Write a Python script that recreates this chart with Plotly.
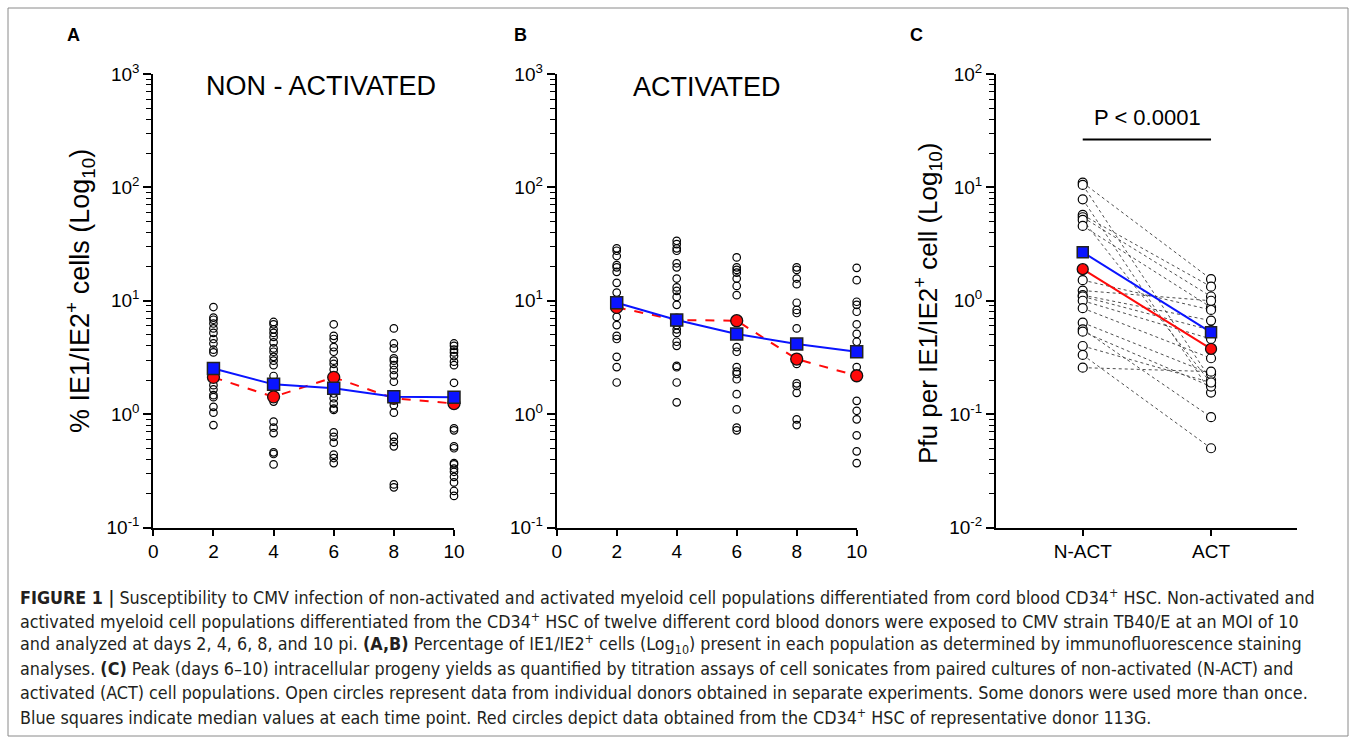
import plotly.graph_objects as go

# ---------------- data ----------------
days = [2, 4, 6, 8, 10]

# Panel A (non-activated) : % IE1/IE2+ cells, individual donors
A_d2 = [8.8, 7.1, 6.8, 6.3, 5.7, 5.2, 4.6, 4.2, 3.7, 3.5, 2.5, 2.1, 1.8, 1.65, 1.47, 1.41, 1.16, 1.03, 0.80]
A_d4 = [6.5, 6.2, 5.6, 5.2, 4.8, 4.3, 3.8, 3.55, 3.2, 2.96, 2.7, 2.17, 1.83, 1.42, 1.29, 0.86, 0.76, 0.68, 0.46, 0.445, 0.36]
A_d6 = [6.2, 4.9, 4.6, 3.9, 3.55, 2.96, 2.77, 2.48, 2.11, 1.69, 1.52, 1.38, 1.24, 1.12, 1.09, 0.69, 0.63, 0.56, 0.44, 0.41, 0.37]
A_d8 = [5.7, 4.2, 3.8, 3.1, 2.96, 2.7, 2.45, 2.2, 1.93, 1.42, 1.38, 1.2, 1.03, 0.63, 0.57, 0.52, 0.24, 0.226]
A_d10 = [4.2, 4.0, 3.7, 3.5, 3.25, 2.9, 2.7, 1.89, 1.41, 1.24, 0.75, 0.72, 0.52, 0.50, 0.37, 0.36, 0.33, 0.31, 0.28, 0.25, 0.21, 0.19]
A_median = [2.53, 1.83, 1.69, 1.42, 1.41]
A_donor113G = [2.11, 1.42, 2.11, 1.38, 1.24]

# Panel B (activated)
B_d2 = [29.0, 27.6, 24.8, 20.6, 19.7, 18.0, 14.4, 11.8, 9.6, 8.7, 7.2, 6.1, 4.9, 4.6, 3.2, 2.6, 1.9]
B_d4 = [33.8, 31.6, 29.0, 27.6, 21.4, 19.7, 15.7, 13.1, 12.2, 10.8, 9.2, 6.8, 6.1, 5.6, 5.2, 4.35, 4.0, 2.66, 2.59, 1.9, 1.27]
B_d6 = [24.1, 19.7, 18.7, 17.7, 15.7, 13.5, 11.2, 6.7, 5.1, 3.9, 3.55, 2.6, 2.37, 2.26, 2.03, 1.5, 1.1, 0.76, 0.72]
B_d8 = [19.7, 18.7, 15.7, 14.0, 9.6, 8.3, 7.8, 5.7, 4.15, 3.06, 2.77, 1.87, 1.77, 1.54, 0.90, 0.80]
B_d10 = [19.5, 15.2, 9.8, 9.2, 8.0, 6.2, 5.1, 4.35, 3.55, 2.6, 2.18, 1.31, 1.07, 0.90, 0.65, 0.47, 0.37]
B_median = [9.6, 6.76, 5.09, 4.15, 3.55]
B_donor113G = [8.74, 6.76, 6.67, 3.06, 2.18]

# Panel C : Pfu per IE1/IE2+ cell, paired N-ACT / ACT
C_categories = ["N-ACT", "ACT"]
C_nact = [11.0, 10.5, 7.85, 5.71, 5.45, 5.16, 4.57, 1.52, 1.23, 1.12, 1.09, 1.00, 0.86, 0.641, 0.560, 0.534, 0.399, 0.333, 0.257]
C_act = [1.55, 0.20, 0.155, 1.33, 1.09, 0.187, 0.875, 0.83, 1.00, 0.668, 0.55, 0.46, 0.311, 0.226, 0.094, 0.175, 0.19, 0.050, 0.237]
C_median = [2.68, 0.527]
C_donor113G = [1.90, 0.376]

y_ticks_AB = [0.1, 1, 10, 100, 1000]
y_ticktext_AB = ["10<sup>-1</sup>", "10<sup>0</sup>", "10<sup>1</sup>", "10<sup>2</sup>", "10<sup>3</sup>"]
y_ticks_C = [0.01, 0.1, 1, 10, 100]
y_ticktext_C = ["10<sup>-2</sup>", "10<sup>-1</sup>", "10<sup>0</sup>", "10<sup>1</sup>", "10<sup>2</sup>"]
x_ticks_AB = [0, 2, 4, 6, 8, 10]

# ---------------- figure ----------------
W, H = 1357, 744
FONT = "Liberation Sans, Arial, Helvetica, sans-serif"
CAP_FONT = "DejaVu Sans Condensed, DejaVu Sans, sans-serif"
BLUE = "#0a14ff"
RED = "#ff0a0a"

fig = go.Figure()


def add_timecourse(cols, med, red, xa, ya):
    for d, vals in zip(days, cols):
        fig.add_trace(go.Scatter(
            x=[d] * len(vals), y=vals, mode="markers", xaxis=xa, yaxis=ya,
            cliponaxis=False, hoverinfo="skip",
            marker=dict(symbol="circle-open", size=7.5, color="black", line=dict(width=1.2))))
    fig.add_trace(go.Scatter(
        x=days, y=red, mode="lines+markers", xaxis=xa, yaxis=ya, cliponaxis=False,
        line=dict(color=RED, width=2, dash="dash"),
        marker=dict(symbol="circle", size=12, color=RED, line=dict(color="#111", width=1.3))))
    fig.add_trace(go.Scatter(
        x=days, y=med, mode="lines+markers", xaxis=xa, yaxis=ya, cliponaxis=False,
        line=dict(color=BLUE, width=2),
        marker=dict(symbol="square", size=12, color=BLUE, line=dict(color="#222", width=1.5))))


add_timecourse([A_d2, A_d4, A_d6, A_d8, A_d10], A_median, A_donor113G, "x", "y")
add_timecourse([B_d2, B_d4, B_d6, B_d8, B_d10], B_median, B_donor113G, "x2", "y2")

# Panel C paired lines
cx, cy = [], []
for n, a in zip(C_nact, C_act):
    cx += [1, 2, None]
    cy += [n, a, None]
fig.add_trace(go.Scatter(x=cx, y=cy, mode="lines", xaxis="x3", yaxis="y3", hoverinfo="skip",
                         line=dict(color="#3a3a3a", width=0.9, dash="dot")))
fig.add_trace(go.Scatter(x=[1] * len(C_nact) + [2] * len(C_act), y=C_nact + C_act, mode="markers",
                         xaxis="x3", yaxis="y3", cliponaxis=False, hoverinfo="skip",
                         marker=dict(symbol="circle", size=9, color="white", line=dict(color="black", width=1.2))))
fig.add_trace(go.Scatter(x=[1, 2], y=C_donor113G, mode="lines+markers", xaxis="x3", yaxis="y3",
                         line=dict(color=RED, width=2),
                         marker=dict(symbol="circle", size=11, color=RED, line=dict(color="#111", width=1.3))))
fig.add_trace(go.Scatter(x=[1, 2], y=C_median, mode="lines+markers", xaxis="x3", yaxis="y3",
                         line=dict(color=BLUE, width=2),
                         marker=dict(symbol="square", size=11, color=BLUE, line=dict(color="#222", width=1.5))))


def px_x(p):
    return p / W


def px_y(p):
    return 1 - p / H


ydom = [px_y(527.5), px_y(74)]
minor_AB = [m * 10 ** e for e in range(-1, 3) for m in range(2, 10)]
minor_C = [m * 10 ** e for e in range(-2, 2) for m in range(2, 10)]

axis_common = dict(showline=True, linecolor="black", linewidth=2, ticks="outside", tickcolor="black",
                   tickwidth=2, showgrid=False, zeroline=False, automargin=False,
                   tickfont=dict(family=FONT, size=19, color="black"))

ylog = lambda tv, tt, rng, minor, anchor: dict(
    axis_common, type="log", range=rng, domain=ydom, anchor=anchor, tickmode="array",
    tickvals=tv, ticktext=tt, ticklen=8,
    minor=dict(tickmode="array", tickvals=minor, ticks="outside", ticklen=5, tickcolor="black", tickwidth=1.2))

fig.update_layout(
    width=W, height=H, margin=dict(l=0, r=0, t=0, b=0, autoexpand=False),
    paper_bgcolor="white", plot_bgcolor="white", showlegend=False,
    xaxis=dict(axis_common, domain=[px_x(153.3), px_x(454)], range=[0, 10], tickmode="array",
               tickvals=x_ticks_AB, ticklen=6, anchor="y"),
    yaxis=ylog(y_ticks_AB, y_ticktext_AB, [-1, 3], minor_AB, "x"),
    xaxis2=dict(axis_common, domain=[px_x(556.7), px_x(856.7)], range=[0, 10], tickmode="array",
                tickvals=x_ticks_AB, ticklen=6, anchor="y2"),
    yaxis2=ylog(y_ticks_AB, y_ticktext_AB, [-1, 3], minor_AB, "x2"),
    xaxis3=dict(axis_common, domain=[px_x(996), px_x(1297)], range=[0.324, 2.670], tickmode="array",
                tickvals=[1, 2], ticktext=C_categories, ticklen=6, anchor="y3"),
    yaxis3=ylog(y_ticks_C, y_ticktext_C, [-2, 2], minor_C, "x3"),
)

ann = []


def text(x, y, s, size, bold=False, angle=0, family=FONT, color="black", xanchor="center"):
    ann.append(dict(x=px_x(x), y=px_y(y), xref="paper", yref="paper", text=("<b>%s</b>" % s) if bold else s,
                    showarrow=False, textangle=angle, xanchor=xanchor, yanchor="middle",
                    font=dict(family=family, size=size, color=color)))


text(73, 35, "A", 18, bold=True)
text(520, 35, "B", 18, bold=True)
text(916, 35, "C", 18, bold=True)
text(320.5, 86, "NON - ACTIVATED", 27)
text(707, 87, "ACTIVATED", 27)
text(80, 291, "% IE1/IE2<sup>+</sup> cells (Log<sub>10</sub>)", 27, angle=-90)
text(928, 304, "Pfu per IE1/IE2<sup>+</sup> cell (Log<sub>10</sub>)", 26, angle=-90)
text(1147, 118, "P &lt; 0.0001", 22)

caption = [
    "<b>FIGURE 1 |</b> Susceptibility to CMV infection of non-activated and activated myeloid cell populations differentiated from cord blood CD34<sup>+</sup> HSC. Non-activated and",
    "activated myeloid cell populations differentiated from the CD34<sup>+</sup> HSC of twelve different cord blood donors were exposed to CMV strain TB40/E at an MOI of 10",
    "and analyzed at days 2, 4, 6, 8, and 10 pi. <b>(A,B)</b> Percentage of IE1/IE2<sup>+</sup> cells (Log<sub>10</sub>) present in each population as determined by immunofluorescence staining",
    "analyses. <b>(C)</b> Peak (days 6–10) intracellular progeny yields as quantified by titration assays of cell sonicates from paired cultures of non-activated (N-ACT) and",
    "activated (ACT) cell populations. Open circles represent data from individual donors obtained in separate experiments. Some donors were used more than once.",
    "Blue squares indicate median values at each time point. Red circles depict data obtained from the CD34<sup>+</sup> HSC of representative donor 113G.",
]
for i, line in enumerate(caption):
    text(18, 596 + i * 24, line, 17.8, family=CAP_FONT, color="#231f20", xanchor="left")

fig.update_layout(annotations=ann)

fig.update_layout(shapes=[
    dict(type="line", xref="x3", yref="paper", x0=1, x1=2, y0=px_y(139.5), y1=px_y(139.5),
         line=dict(color="black", width=2)),
    dict(type="rect", xref="paper", yref="paper", x0=px_x(8), x1=px_x(1348), y0=px_y(736), y1=px_y(8),
         line=dict(color="#8a8a8a", width=1)),
])

fig.write_html("out.html", config={"displayModeBar": False},
               post_script="document.body.style.margin='0px';document.body.style.padding='0px';")
